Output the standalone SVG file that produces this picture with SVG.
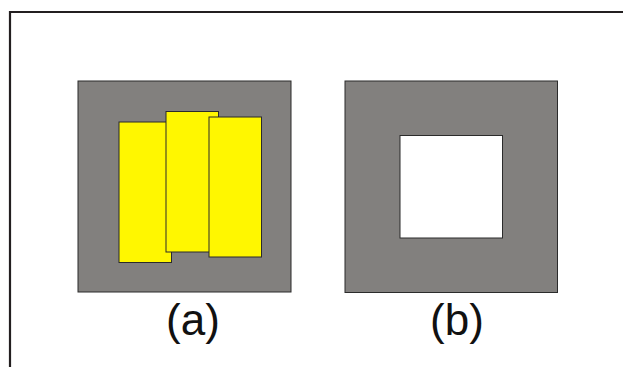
<svg xmlns="http://www.w3.org/2000/svg" width="623" height="367" viewBox="0 0 623 367">
  <style>
    .frame { fill: none; stroke: #231f20; stroke-width: 2.2; }
    .core { fill: #82807e; stroke: #2b2b2b; stroke-width: 1; }
    .coil { fill: #fff700; stroke: #2b2b2b; stroke-width: 1; }
    .hole { fill: #ffffff; stroke: #2b2b2b; stroke-width: 1; }
    .label { font-family: "Liberation Sans", Arial, sans-serif; font-size: 44px; fill: #111; text-anchor: middle; }
  </style>
  <rect width="623" height="367" fill="#ffffff"/>
  <!-- outer frame, open to the right and bottom -->
  <path class="frame" d="M10,370 V12 H630"/>

  <g id="panel-a">
    <rect class="core" x="78" y="81" width="213" height="211"/>
    <rect class="coil" x="119" y="122" width="52.5" height="140.5"/>
    <rect class="coil" x="166" y="111.5" width="52.5" height="140.5"/>
    <rect class="coil" x="209" y="117" width="52.5" height="140"/>
    <text class="label" x="193" y="335">(a)</text>
  </g>

  <g id="panel-b">
    <rect class="core" x="345" y="81" width="212.5" height="211.5"/>
    <rect class="hole" x="400" y="135.5" width="102.5" height="102.5"/>
    <text class="label" x="457" y="335">(b)</text>
  </g>
</svg>
